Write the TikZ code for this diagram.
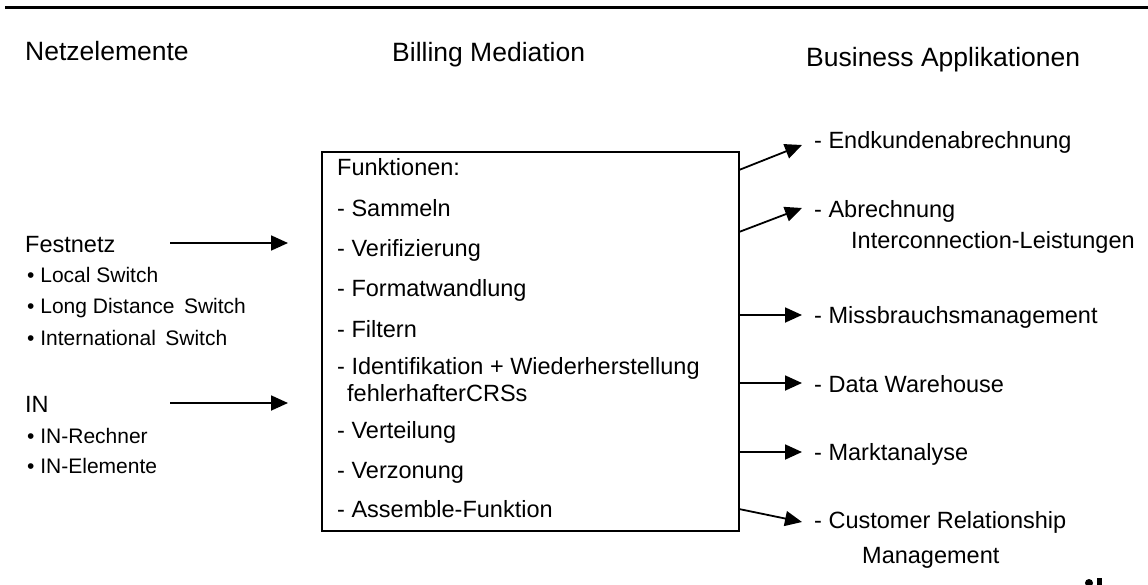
\documentclass[tikz,border=0pt]{standalone}
\usepackage{fontspec}
\setmainfont{Liberation Sans}
\usetikzlibrary{arrows.meta}
\begin{document}
\begin{tikzpicture}[x=1pt,y=-1pt,
  hdr/.style={anchor=base west, inner sep=0pt, font=\fontsize{26.5}{30}\selectfont},
  txt/.style={anchor=base west, inner sep=0pt, font=\fontsize{23.5}{28}\selectfont},
  sml/.style={anchor=base west, inner sep=0pt, font=\fontsize{21}{25}\selectfont},
  conn/.style={line width=1.8pt, -{Triangle[length=17pt,width=15pt]}},
  frame/.style={draw, line width=1.6pt, inner sep=0pt, anchor=north west}
  ]
\useasboundingbox (0,0) rectangle (1148,584);
\draw[line width=2.6pt] (5,7.5) -- (1148,7.5);

% headers
\node[hdr] (netz) at (25,60) {Netzelemente};
\node[hdr] (bm) at (392,61) {Billing Mediation};
\node[hdr] (ba) at (806,66) {Business Applikationen};

% left column
\node[txt] (fest) at (25,252) {Festnetz};
\node[sml] (ls) at (27,282) {• Local Switch};
\node[sml] (lds) at (27,313) {• Long Distance\hspace{0.45em}Switch};
\node[sml] (is) at (27,345) {• International\hspace{0.45em}Switch};
\node[txt] (in) at (25,412) {IN};
\node[sml] (inr) at (27,443) {• IN-Rechner};
\node[sml] (ine) at (27,473) {• IN-Elemente};

% box
\node[frame, minimum width=417pt, minimum height=379pt] (box) at (321,151) {};
\node[txt] (f0) at (337,175) {Funktionen:};
\node[txt] (f1) at (337,216) {- Sammeln};
\node[txt] (f2) at (337,256) {- Verifizierung};
\node[txt] (f3) at (337,296) {- Formatwandlung};
\node[txt] (f4) at (337,337) {- Filtern};
\node[txt] (f5) at (337,374) {- Identifikation + Wiederherstellung};
\node[txt] (f5b) at (347,401) {fehlerhafterCRSs};
\node[txt] (f6) at (337,438) {- Verteilung};
\node[txt] (f7) at (337,478) {- Verzonung};
\node[txt] (f8) at (337,517) {- Assemble-Funktion};

% right column
\node[txt] (r1) at (814,148) {- Endkundenabrechnung};
\node[txt] (r2) at (814,217) {- Abrechnung};
\node[txt] (r2b) at (851,248) {Interconnection-Leistungen};
\node[txt] (r3) at (814,323) {- Missbrauchsmanagement};
\node[txt] (r4) at (814,392) {- Data Warehouse};
\node[txt] (r5) at (814,460) {- Marktanalyse};
\node[txt] (r6) at (814,528) {- Customer Relationship};
\node[txt] (r6b) at (862,563) {Management};

% connector end points
\coordinate (l1s) at (170,243);
\coordinate (l1e) at (288,243);
\coordinate (l2s) at (170,403);
\coordinate (l2e) at (288,403);
\coordinate (a1s) at (739,170);
\coordinate (a1e) at (802,145);
\coordinate (a2s) at (739,232);
\coordinate (a2e) at (802,208);
\coordinate (a3s) at (739,315);
\coordinate (a3e) at (802,315);
\coordinate (a4s) at (739,383);
\coordinate (a4e) at (802,383);
\coordinate (a5s) at (739,452);
\coordinate (a5e) at (802,452);
\coordinate (a6s) at (739,509);
\coordinate (a6e) at (802,522);

\draw[conn] (l1s) -- (l1e);
\draw[conn] (l2s) -- (l2e);
\draw[conn] (a1s) -- (a1e);
\draw[conn] (a2s) -- (a2e);
\draw[conn] (a3s) -- (a3e);
\draw[conn] (a4s) -- (a4e);
\draw[conn] (a5s) -- (a5e);
\draw[conn] (a6s) -- (a6e);

% cut-off mark at lower right
\begin{scope}
\clip (0,0) rectangle (1148,584);
\fill (1089,583) circle (4);
\fill (1097,578) rectangle (1102,590);
\end{scope}
\end{tikzpicture}
\end{document}
